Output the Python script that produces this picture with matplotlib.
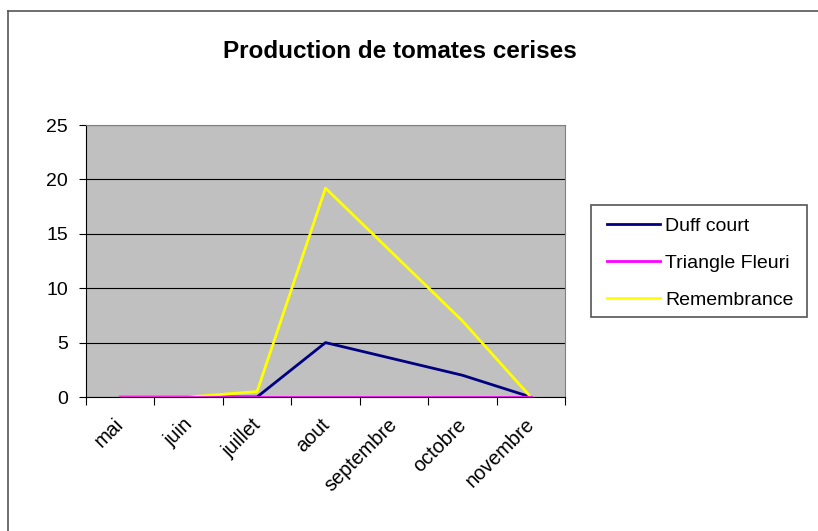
import matplotlib
matplotlib.use("Agg")
import matplotlib.pyplot as plt
import matplotlib.transforms as mtransforms
from matplotlib.lines import Line2D
from matplotlib.patches import Rectangle

plt.rcParams['font.family'] = ['Liberation Sans', 'DejaVu Sans']

months = ["mai", "juin", "juillet", "aout", "septembre", "octobre", "novembre"]
duff_court = [0, 0, 0, 5, 3.5, 2, 0]
triangle_fleuri = [0, 0, 0, 0, 0, 0, 0]
remembrance = [0, 0, 0.5, 19.2, 13.1, 7, 0]
y_ticks = [0, 5, 10, 15, 20, 25]

W, H = 818, 531
fig = plt.figure(figsize=(W / 100, H / 100), dpi=100)

# outer chart frame (top and left edges)
fig.add_artist(Line2D([8 / W, 8 / W], [0, 1 - 11 / H], color="#555555", lw=1.2,
                      transform=fig.transFigure))
fig.add_artist(Line2D([8 / W, 1], [1 - 11 / H, 1 - 11 / H], color="#555555", lw=1.2,
                      transform=fig.transFigure))

left, right, top, bottom = 86, 565, 125, 397
ax = fig.add_axes([left / W, 1 - bottom / H, (right - left) / W, (bottom - top) / H])
ax.set_facecolor("#c0c0c0")

x = list(range(len(months)))
ax.plot(x, duff_court, color="#000080", lw=2, label="Duff court", zorder=3)
ax.plot(x, triangle_fleuri, color="#ff00ff", lw=2, label="Triangle Fleuri", zorder=4)
ax.plot(x, remembrance, color="#ffff00", lw=2, label="Remembrance", zorder=3)

ax.set_xlim(-0.5, len(months) - 0.5)
ax.set_ylim(0, 25)
ax.set_yticks(y_ticks)
ax.set_yticklabels([str(v) for v in y_ticks], fontsize=14)
ax.yaxis.grid(True, color="black", lw=0.8)
ax.set_axisbelow(True)

# category ticks sit between categories; labels centred on categories
ax.set_xticks([i - 0.5 for i in range(len(months) + 1)])
ax.set_xticklabels([])
ax.tick_params(axis="x", which="major", length=6, color="black", direction="out")
ax.tick_params(axis="y", length=5, color="black", direction="out", pad=8)

label_tf = (mtransforms.blended_transform_factory(ax.transData, ax.transAxes)
            + mtransforms.ScaledTranslation(-6 / 100, -18 / 100, fig.dpi_scale_trans))
for xi, name in zip(x, months):
    ax.text(xi, 0, name, transform=label_tf, rotation=45, ha="right", va="top",
            rotation_mode="anchor", fontsize=14.3, clip_on=False)

for s in ["top", "right"]:
    ax.spines[s].set_color("#808080")
ax.spines["left"].set_color("black")
ax.spines["bottom"].set_color("black")

fig.text(400 / W, 1 - 51 / H, "Production de tomates cerises", ha="center", va="center",
         fontsize=17.5, fontweight="bold")

# legend box and entries
fig.add_artist(Rectangle((591 / W, 1 - 317 / H), (807 - 591) / W, (317 - 205) / H,
                         transform=fig.transFigure, facecolor="white",
                         edgecolor="#555555", lw=1.2, zorder=5))
leg = fig.legend(loc="center left", bbox_to_anchor=(607 / W, 1 - 263 / H), frameon=False,
                 fontsize=14, handlelength=2.73, labelspacing=0.99, borderpad=0,
                 handletextpad=0.26, borderaxespad=0)
leg.set_zorder(6)

fig.savefig("out.png", dpi=100)
